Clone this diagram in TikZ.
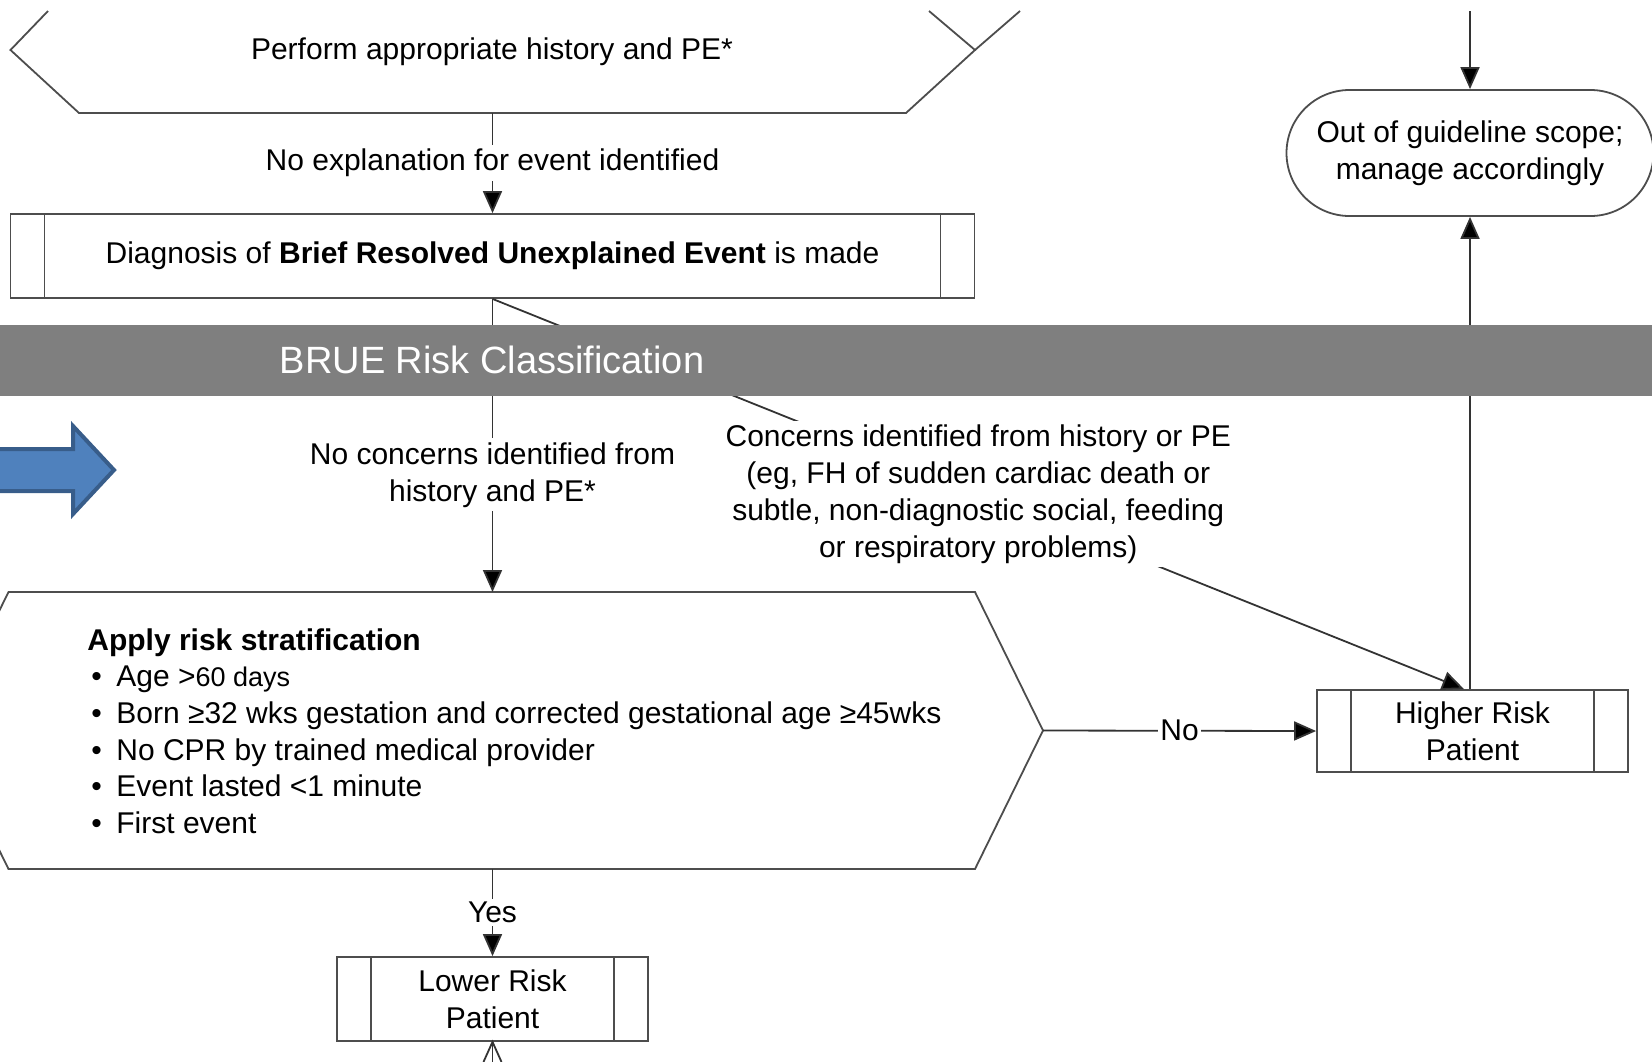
\documentclass[tikz,border=0pt]{standalone}
\usepackage{fontspec}
\setmainfont{Liberation Sans}
\usetikzlibrary{arrows.meta}
\definecolor{linec}{HTML}{333333}
\definecolor{boxc}{HTML}{4D4D4D}
\definecolor{bandc}{HTML}{7F7F7F}
\definecolor{bluef}{HTML}{4F81BD}
\definecolor{blued}{HTML}{385D8A}
\begin{document}
\begin{tikzpicture}[x=0.5pt,y=-0.5pt,
  every node/.style={font=\fontsize{15}{18.5}\selectfont, text=black},
  conn/.style={draw=linec, line width=0.9pt},
  arr/.style={conn, -{Triangle[length=11pt,width=9.5pt,fill=black]}},
  lbl/.style={fill=white, align=center, inner sep=2pt},
  shapeln/.style={draw=boxc, line width=0.9pt},
  procbox/.style={draw=boxc, line width=0.9pt, fill=white, align=center, inner sep=0pt, minimum height=42pt,
    path picture={\draw[boxc, line width=0.9pt]
      ([xshift=17pt]path picture bounding box.north west) -- ([xshift=17pt]path picture bounding box.south west)
      ([xshift=-17pt]path picture bounding box.north east) -- ([xshift=-17pt]path picture bounding box.south east);}}
]
\useasboundingbox (0,0) rectangle (1652,1061);
\clip (0,0) rectangle (1652,1061);

% top hexagon
\coordinate (hAtl) at (48,11);
\coordinate (hAl) at (10.5,50);
\coordinate (hAbl) at (79,113);
\coordinate (hAs) at (492.5,113);
\coordinate (hAbr) at (906,113);
\coordinate (hAr) at (975,50);
\coordinate (hAtr) at (929,11);
\coordinate (inA) at (1020,11);
\draw[shapeln, fill=white] (hAtl) -- (hAl) -- (hAbl) -- (hAbr) -- (hAr) -- (hAtr);
\draw[shapeln] (hAr) -- (inA);
\node (hAtext) at (492,52) {Perform appropriate history and PE*};

% diagnosis box
\node[procbox, minimum width=482pt] (diag) at (492.5,256) {Diagnosis of \textbf{Brief Resolved Unexplained Event} is made};

% big hexagon
\coordinate (hBn) at (492.5,592);
\coordinate (hBs) at (492.5,869);
\coordinate (hBe) at (1043,730.5);
\draw[shapeln, fill=white] (8.5,592) -- (975,592) -- (hBe) -- (975,869) -- (8.5,869) -- (-59.5,730.5) -- cycle;
\node[anchor=west, align=left, inner sep=0pt, font=\fontsize{15}{18.3}\selectfont] (risk) at (87,731) {%
\textbf{Apply risk stratification}\\
\makebox[14.5pt][l]{\hspace{2pt}•}Age >{\fontsize{13.5}{18.3}\selectfont 60 days}\\
\makebox[14.5pt][l]{\hspace{2pt}•}Born ≥32 wks gestation and corrected gestational age ≥45wks\\
\makebox[14.5pt][l]{\hspace{2pt}•}No CPR by trained medical provider\\
\makebox[14.5pt][l]{\hspace{2pt}•}Event lasted <1 minute\\
\makebox[14.5pt][l]{\hspace{2pt}•}First event};

% right side boxes
\node[procbox, minimum width=155.5pt, minimum height=41pt] (hr) at (1472.5,731) {Higher Risk\\Patient};
\node[draw=boxc, line width=0.9pt, fill=white, rounded corners=31.5pt, minimum width=183.5pt, minimum height=63pt, inner sep=0pt, align=center] (og) at (1470,153) {Out of guideline scope;\\manage accordingly};
\node[procbox, minimum width=155.5pt] (lr) at (492.5,999) {Lower Risk\\Patient};

% connectors
\draw[arr] (hAs) -- (diag.north) node[lbl, midway] (lblA) {No explanation for event identified};
\draw[arr] (diag.south) -- (hBn) node[lbl, pos=0.6] (lblB) {No concerns identified from\\history and PE*};
\draw[arr] (diag.south) -- ([xshift=-4.25pt]hr.north) node[lbl, pos=0.5] (lblC) {Concerns identified from history or PE\\(eg, FH of sudden cardiac death or\\subtle, non-diagnostic social, feeding\\or respiratory problems)};
\draw[arr] (hBe) -- (hr.west) node[lbl, midway, inner sep=1pt] (lblD) {No};
\draw[arr] (hBs) -- (lr.north) node[lbl, midway, inner sep=1.5pt] (lblE) {Yes};
\coordinate (inB) at (1470,11);
\draw[arr] (inB) -- (og.north);
\draw[arr] (og.south |- hr.north) -- (og.south);
\coordinate (inC) at (492.5,1080);
\draw[conn] (inC) -- (lr.south);
\draw[conn] ([shift={(-9,20)}]lr.south) -- (lr.south) -- ([shift={(9,20)}]lr.south);

% band
\fill[bandc] (0,324.5) rectangle (1652,396);
\node[text=white, font=\fontsize{19}{22}\selectfont] (bandtxt) at (492,360) {BRUE Risk Classification};

% blue block arrow
\draw[fill=bluef, draw=blued, line width=2pt] (-10,449) -- (73,449) -- (73,426) -- (114,470) -- (73,514) -- (73,491) -- (-10,491) -- cycle;
\end{tikzpicture}
\end{document}
